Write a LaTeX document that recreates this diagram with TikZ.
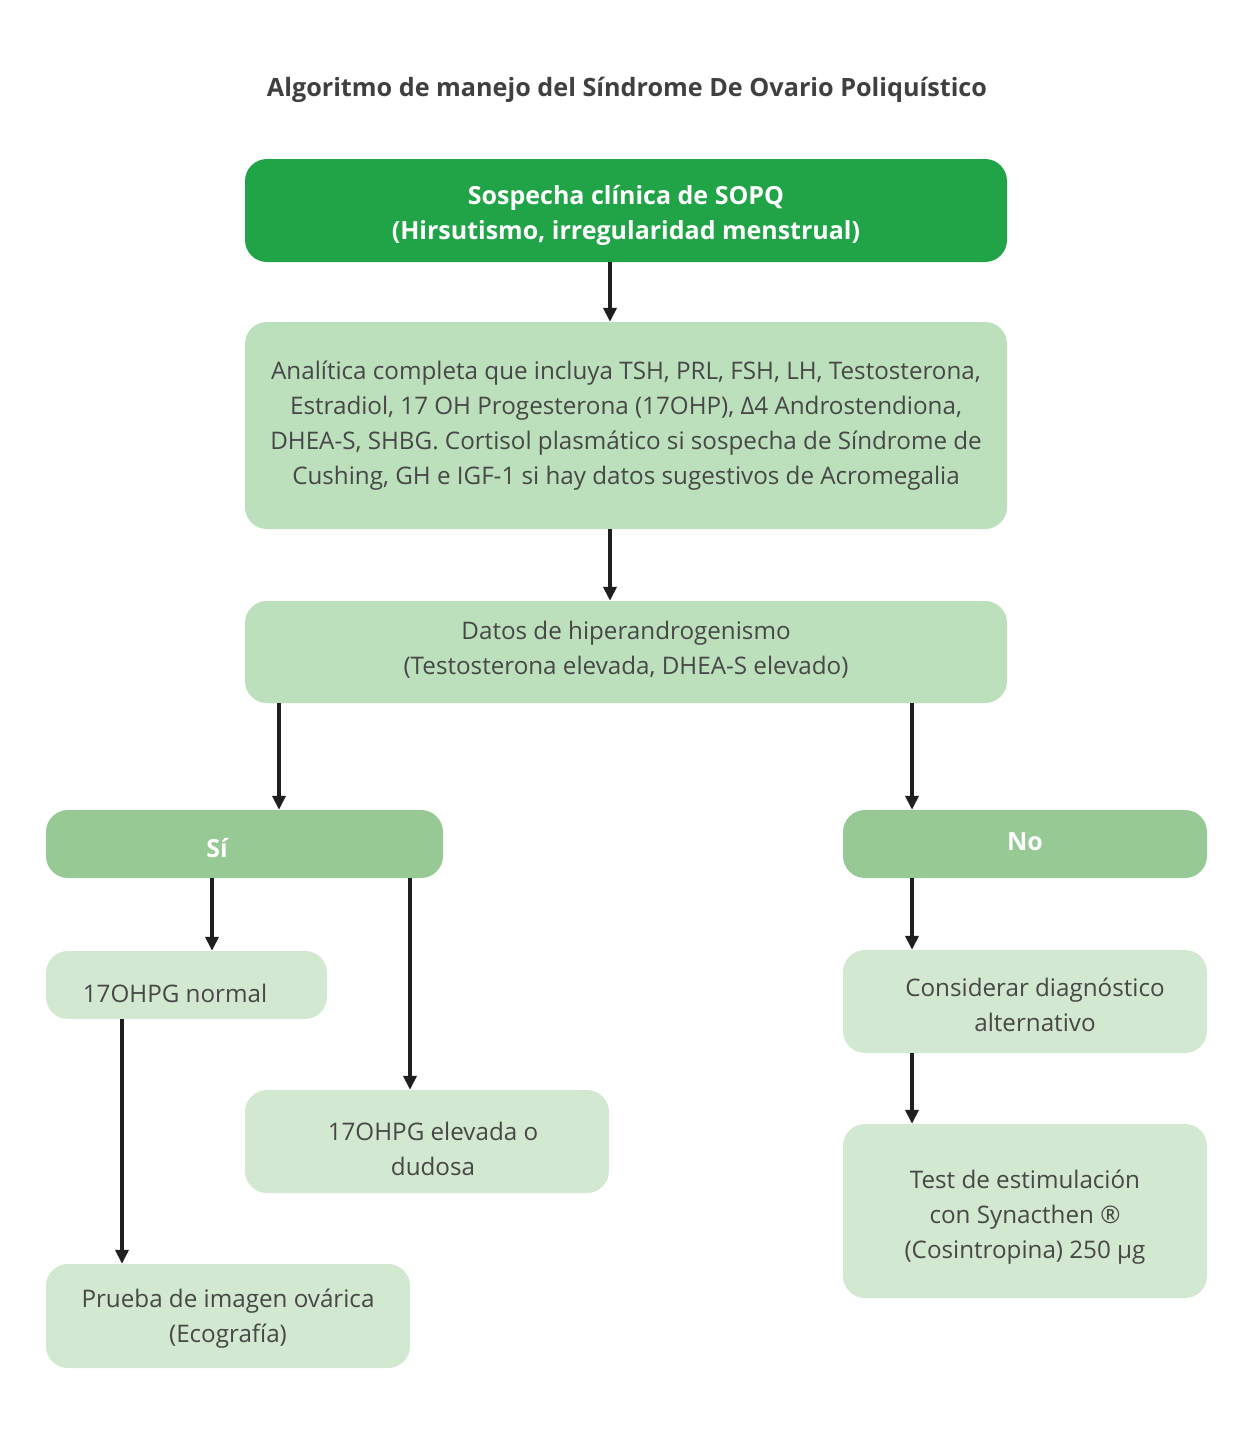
\documentclass[tikz,border=0pt]{standalone}
\usepackage{fontspec}
\setmainfont{Open Sans}
\usetikzlibrary{fit,arrows.meta}
\definecolor{dg}{HTML}{21A447}
\definecolor{lg}{HTML}{BCDFBC}
\definecolor{mg}{HTML}{97C995}
\definecolor{pg}{HTML}{D3E8D0}
\definecolor{tx}{HTML}{474747}
\tikzset{
  box/.style={rounded corners=22pt, inner sep=0pt, draw=none},
  txt/.style={align=center, text=tx, font=\fontsize{24.2}{35}\selectfont, inner sep=0pt},
  wtxt/.style={align=center, text=white, font=\bfseries\fontsize{25}{35}\selectfont, inner sep=0pt},
  arr/.style={line width=3.6pt, draw=black!88, -{Triangle[length=14pt,width=13pt]}}
}
\begin{document}
\begin{tikzpicture}[x=1pt,y=-1pt]
\useasboundingbox[fill=white] (0,0) rectangle (1258,1444);
\node[text=tx!90!black, font=\bfseries\fontsize{25.2}{28}\selectfont, inner sep=0pt] (title) at (627,90) {Algoritmo de manejo del Síndrome De Ovario Poliquístico};
% boxes
\node[box, fill=dg, fit={(245,159)(1007,262)}] (b1) {};
\node[wtxt] (t1) at (626,215) {Sospecha clínica de SOPQ\\(Hirsutismo, irregularidad menstrual)};
\node[box, fill=lg, fit={(245,322)(1007,529)}] (b2) {};
\node[txt] (t2) at (626,426) {Analítica completa que incluya TSH, PRL, FSH, LH, Testosterona,\\Estradiol, 17 OH Progesterona (17OHP), Δ4 Androstendiona,\\DHEA-S, SHBG. Cortisol plasmático si sospecha de Síndrome de\\Cushing, GH e IGF-1 si hay datos sugestivos de Acromegalia};
\node[box, fill=lg, fit={(245,601)(1007,703)}] (b3) {};
\node[txt] (t3) at (626,650) {Datos de hiperandrogenismo\\(Testosterona elevada, DHEA-S elevado)};
\node[box, fill=mg, fit={(46,810)(443,878)}] (si) {};
\node[wtxt] (tsi) at (217,848) {Sí};
\node[box, fill=mg, fit={(843,810)(1207,878)}] (no) {};
\node[wtxt] (tno) at (1025,842) {No};
\node[box, fill=pg, fit={(46,951)(327,1019)}] (n17) {};
\node[txt] (tn17) at (175,993) {17OHPG normal};
\node[box, fill=pg, fit={(46,1264)(410,1368)}] (pr) {};
\node[txt] (tpr) at (228,1319) {Prueba de imagen ovárica\\(Ecografía)};
\node[box, fill=pg, fit={(245,1090)(609,1193)}] (el) {};
\node[txt] (tel) at (433,1149) {17OHPG elevada o\\dudosa};
\node[box, fill=pg, fit={(843,950)(1207,1053)}] (co) {};
\node[txt] (tco) at (1035,1005) {Considerar diagnóstico\\alternativo};
\node[box, fill=pg, fit={(843,1124)(1207,1298)}] (te) {};
\node[txt] (tte) at (1025,1217) {Test de estimulación\\con Synacthen ®\\(Cosintropina) 250 µg};
% arrows
\draw[arr] (b1.south) ++(-16,0) coordinate (a1) -- (a1 |- b2.north);
\draw[arr] (b2.south) ++(-16,0) coordinate (a2) -- (a2 |- b3.north);
\draw[arr] (b3.south -| 279,0) -- (si.north -| 279,0);
\draw[arr] (b3.south -| 912,0) -- (no.north -| 912,0);
\draw[arr] (si.south -| 212,0) -- (n17.north -| 212,0);
\draw[arr] (si.south -| 410,0) -- (el.north -| 410,0);
\draw[arr] (n17.south -| 122,0) -- (pr.north -| 122,0);
\draw[arr] (no.south -| 912,0) -- (co.north -| 912,0);
\draw[arr] (co.south -| 912,0) -- (te.north -| 912,0);
\end{tikzpicture}
\end{document}
